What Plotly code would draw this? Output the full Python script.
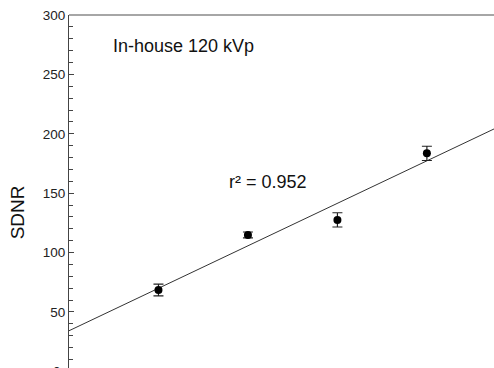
import numpy as np
import plotly.graph_objects as go

x_vals = [1, 2, 3, 4]
sdnr = [68.5, 114.8, 127.5, 183.5]
sdnr_err = [5.0, 2.5, 6.0, 6.0]
y_ticks = [0, 50, 100, 150, 200, 250, 300]
label_text = "In-house 120 kVp"
r2_text = "r² = 0.952"
y_title = "SDNR"

x_range = [0, 4.75]
y_range = [2.8, 300]

slope, intercept = np.polyfit(x_vals, sdnr, 1)
fit_x = np.array(x_range)
fit_y = slope * fit_x + intercept

fig = go.Figure()
fig.add_trace(go.Scatter(
    x=fit_x, y=fit_y, mode="lines",
    line=dict(color="#333333", width=1), hoverinfo="skip", showlegend=False,
))
fig.add_trace(go.Scatter(
    x=x_vals, y=sdnr, mode="markers",
    marker=dict(color="black", size=8),
    error_y=dict(type="data", array=sdnr_err, color="#222222", thickness=1.2, width=5),
    showlegend=False,
))

fig.update_layout(
    width=494, height=368,
    margin=dict(l=69, r=0, t=15, b=0),
    paper_bgcolor="white", plot_bgcolor="white",
    font=dict(family="Liberation Sans, Arial, sans-serif", color="#222222"),
    xaxis=dict(range=x_range, showgrid=False, zeroline=False, showline=False,
               showticklabels=False, ticks=""),
    yaxis=dict(range=y_range, tickvals=y_ticks, showgrid=False, zeroline=False,
               showline=True, linecolor="#444444", linewidth=1.2,
               ticks="inside", ticklen=5, tickcolor="#444444", tickwidth=1,
               tickfont=dict(size=13.5, color="#222222"),
               minor=dict(dtick=10, ticks="inside", ticklen=4, tickcolor="#444444", tickwidth=1)),
    shapes=[dict(type="line", xref="paper", yref="paper", x0=0, x1=1, y0=1, y1=1,
                 line=dict(color="#888888", width=1.5))],
    annotations=[
        dict(x=0.47, y=274, xref="x", yref="y", text=label_text, showarrow=False,
             xanchor="left", yanchor="middle", font=dict(size=18, color="#111111")),
        dict(x=2.22, y=159.6, xref="x", yref="y", text=r2_text, showarrow=False,
             xanchor="center", yanchor="middle", font=dict(size=18, color="#111111")),
        dict(x=-0.122, y=134, xref="paper", yref="y", text=y_title, showarrow=False,
             textangle=-90, xanchor="center", yanchor="middle",
             font=dict(size=19, color="#111111")),
        dict(x=0, y=-0.0093, xref="paper", yref="paper", text="0", showarrow=False,
             xanchor="right", yanchor="middle", xshift=-6,
             font=dict(size=13.5, color="#222222")),
    ],
)

fig.write_html("out.html", config={"displayModeBar": False},
               post_script="document.body.style.margin='0';document.body.style.overflow='hidden';")
